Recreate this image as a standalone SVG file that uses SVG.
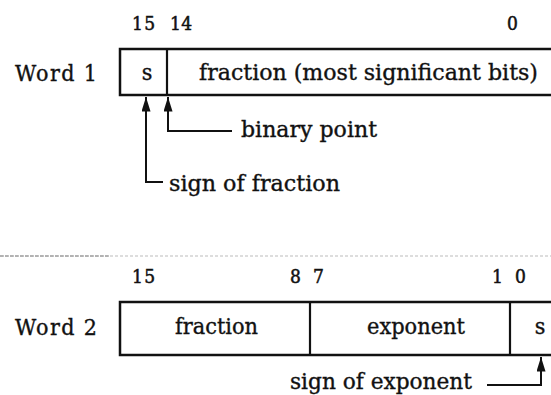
<svg xmlns="http://www.w3.org/2000/svg" width="551" height="395" viewBox="0 0 551 395">
<defs>
<style>
.lbl{font-size:23px;fill:#111;stroke:#111;stroke-width:0.35;}
.num{font-size:19px;fill:#111;stroke:#111;stroke-width:0.5;}
.box{fill:none;stroke:#111;stroke-width:2.5;}
.div{stroke:#111;stroke-width:2.2;}
.conn{fill:none;stroke:#111;stroke-width:2;}
</style>
<marker id="ah" viewBox="0 0 16 10" refX="16" refY="5" markerWidth="16" markerHeight="9" markerUnits="userSpaceOnUse" orient="auto">
<path d="M16 5 L0 0 L0 10 Z" fill="#111"/>
</marker>
</defs>
<rect width="551" height="395" fill="#fff"/>
<line x1="0" y1="256" x2="551" y2="256" stroke="#bbb" stroke-width="1" stroke-dasharray="3 2"/>
<line x1="0" y1="256" x2="110" y2="256" stroke="#888" stroke-width="1" stroke-dasharray="4 1"/>

<g id="word1" font-family="DejaVu Serif Condensed, DejaVu Serif, Liberation Serif, serif">
<text class="lbl" x="15" y="81" textLength="82" lengthAdjust="spacing">Word 1</text>
<text class="num" x="132" y="30" textLength="23" lengthAdjust="spacing">15</text>
<text class="num" x="170" y="30" textLength="22" lengthAdjust="spacing">14</text>
<text class="num" x="507" y="30">0</text>
<rect class="box" x="120" y="49" width="445" height="46"/>
<line class="div" x1="167" y1="49" x2="167" y2="95"/>
<text class="lbl" x="147" y="80" text-anchor="middle">s</text>
<text class="lbl" x="199" y="80" textLength="339" lengthAdjust="spacingAndGlyphs">fraction (most significant bits)</text>
</g>

<g id="binary-point" font-family="DejaVu Serif Condensed, DejaVu Serif, Liberation Serif, serif">
<text class="lbl" x="241" y="137" textLength="136" lengthAdjust="spacingAndGlyphs">binary point</text>
</g>
<g id="sign-of-fraction" font-family="DejaVu Serif Condensed, DejaVu Serif, Liberation Serif, serif">
<text class="lbl" x="169" y="191" textLength="171" lengthAdjust="spacingAndGlyphs">sign of fraction</text>
</g>

<g id="word2" font-family="DejaVu Serif Condensed, DejaVu Serif, Liberation Serif, serif">
<text class="lbl" x="15" y="335" textLength="82" lengthAdjust="spacing">Word 2</text>
<text class="num" x="132" y="283" textLength="23" lengthAdjust="spacing">15</text>
<text class="num" x="290" y="283">8</text>
<text class="num" x="313" y="283">7</text>
<text class="num" x="492" y="283">1</text>
<text class="num" x="515" y="283">0</text>
<rect class="box" x="120" y="302" width="445" height="53"/>
<line class="div" x1="310" y1="302" x2="310" y2="355"/>
<line class="div" x1="510" y1="302" x2="510" y2="355"/>
<text class="lbl" x="175" y="334" textLength="83" lengthAdjust="spacingAndGlyphs">fraction</text>
<text class="lbl" x="367" y="334" textLength="98" lengthAdjust="spacingAndGlyphs">exponent</text>
<text class="lbl" x="540" y="334" text-anchor="middle">s</text>
</g>

<g id="sign-of-exponent" font-family="DejaVu Serif Condensed, DejaVu Serif, Liberation Serif, serif">
<text class="lbl" x="290" y="389" textLength="182" lengthAdjust="spacingAndGlyphs">sign of exponent</text>
</g>

<g id="connectors">
<polyline class="conn" points="232,131 168,131 168,97" marker-end="url(#ah)"/>
<polyline class="conn" points="163,182 146,182 146,97" marker-end="url(#ah)"/>
<polyline class="conn" points="487,385 541,385 541,357" marker-end="url(#ah)"/>
</g>
</svg>
